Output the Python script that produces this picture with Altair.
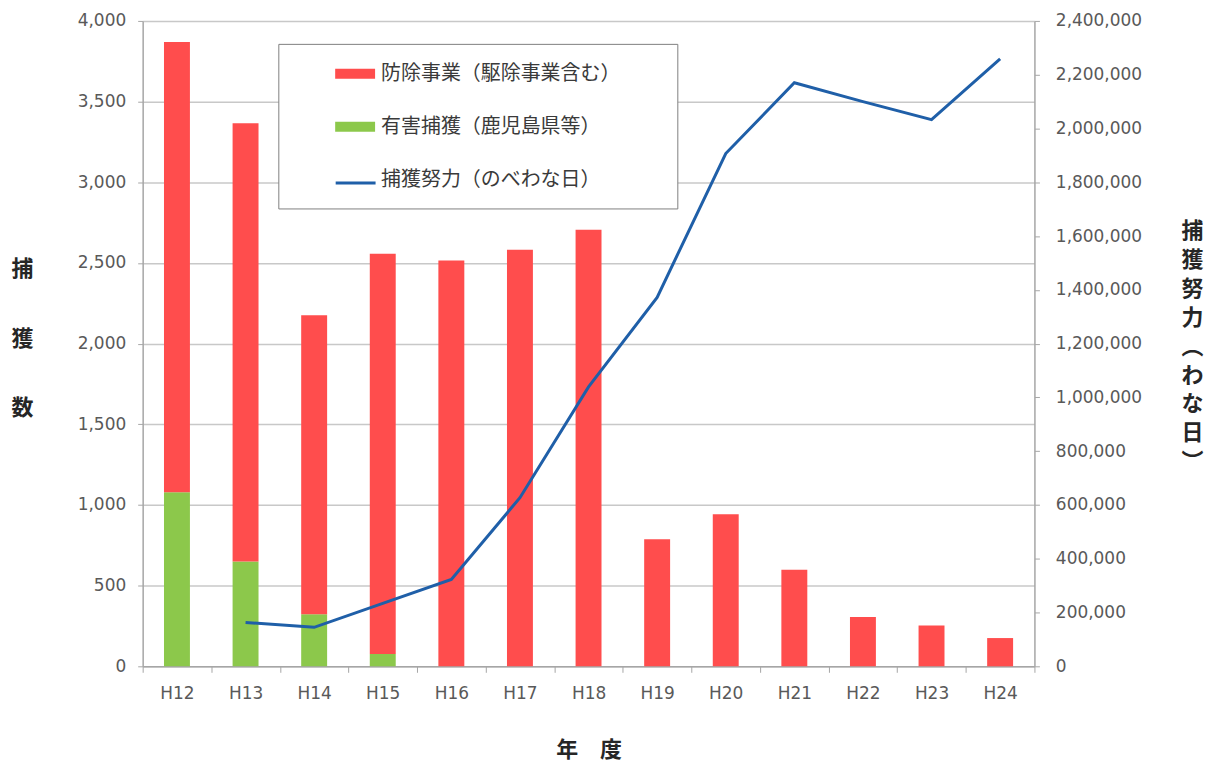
import altair as alt
import pandas as pd

# ---------------- data ----------------
years = ["H12", "H13", "H14", "H15", "H16", "H17", "H18",
         "H19", "H20", "H21", "H22", "H23", "H24"]
red_vals = [2792, 2715, 1852, 2480, 2515, 2582, 2705, 787, 942, 598, 305, 253, 175]
green_vals = [1078, 650, 323, 77, 0, 0, 0, 0, 0, 0, 0, 0, 0]
effort_years = ["H13", "H14", "H15", "H16", "H17", "H18",
                "H19", "H20", "H21", "H22", "H23", "H24"]
effort_vals = [163000, 145000, 234000, 323000, 627000, 1039000,
               1372000, 1907000, 2170000, 2100000, 2033000, 2259000]

S_RED = "防除事業（駆除事業含む）"
S_GREEN = "有害捕獲（鹿児島県等）"
S_LINE = "捕獲努力（のべわな日）"
left_ticks = [0, 500, 1000, 1500, 2000, 2500, 3000, 3500, 4000]
right_ticks = [0, 200000, 400000, 600000, 800000, 1000000, 1200000,
               1400000, 1600000, 1800000, 2000000, 2200000, 2400000]

RED = "#ff4d4d"
GREEN = "#8cc84b"
BLUE = "#1f5fa8"
NUM_FONT = "DejaVu Sans"
JP_FONT = "Noto Sans CJK JP"
LABEL_C = "#595959"
TITLE_C = "#262626"
AXIS_C = "#a6a6a6"

RECT_PATH = "M-1,-0.25H1V0.25H-1Z"
LINE_PATH = "M-1,0H1"

bars_df = pd.DataFrame({
    "year": years + years,
    "series": [S_GREEN] * len(years) + [S_RED] * len(years),
    "value": green_vals + red_vals,
    "stack_order": [0] * len(years) + [1] * len(years),
})
line_df = pd.DataFrame({
    "year": effort_years,
    "effort": effort_vals,
    "series": [S_LINE] * len(effort_years),
})

# colour legend holds all three labels and the frame; the line entry's
# swatch is left transparent and a stroke legend draws the blue line on it
color_scale = alt.Scale(domain=[S_RED, S_GREEN, S_LINE],
                        range=[RED, GREEN, "rgba(0,0,0,0)"])
stroke_scale = alt.Scale(domain=[S_LINE], range=[BLUE])

color_legend = alt.Legend(
    title=[" ", " "], titleOrient="right", titleAnchor="start",
    titleBaseline="top", titleLineHeight=146, titlePadding=48,
    titleFontSize=1,
    orient="none", legendX=136, legendY=23, direction="vertical",
    padding=9, rowPadding=22, symbolSize=1600, symbolOffset=47,
    symbolType=RECT_PATH, labelOffset=5, labelFont=JP_FONT,
    labelFontSize=20, labelColor="#3a3a3a", labelLimit=400,
    strokeColor="#7f7f7f", fillColor="white", zindex=1,
)
stroke_legend = alt.Legend(
    title=None, orient="none", legendX=192, legendY=141,
    direction="vertical", padding=0, symbolSize=1600, symbolOffset=0,
    symbolType=LINE_PATH, symbolStrokeWidth=3, labelFont=JP_FONT,
    labelFontSize=20, labelExpr="''", zindex=2,
)

x_scale = alt.Scale(domain=years, paddingInner=0, paddingOuter=0)
x_axis = alt.Axis(
    title="年　度", labelAngle=0, labelFont=NUM_FONT, labelFontSize=17,
    labelColor=LABEL_C, labelPadding=13, tickBand="extent", tickSize=6,
    tickColor=AXIS_C, domainColor=AXIS_C, domainWidth=1.5, grid=False,
    titleFont=JP_FONT, titleFontSize=22, titleFontWeight="bold",
    titleColor=TITLE_C, titleY=83, titleBaseline="middle",
    titleAlign="center")

bars = alt.Chart(bars_df).mark_bar(size=26).encode(
    x=alt.X("year:N", scale=x_scale, sort=years, axis=x_axis),
    y=alt.Y("value:Q", stack="zero", scale=alt.Scale(domain=[0, 4000]),
            axis=alt.Axis(
                title=["捕", "獲", "数"], titleAngle=0, titleAlign="center",
                titleBaseline="middle", titleX=-121, titleY=248,
                titleLineHeight=70, titleFont=JP_FONT, titleFontSize=22,
                titleFontWeight="bold", titleColor=TITLE_C,
                values=left_ticks, format=",d", labelFont=NUM_FONT,
                labelFontSize=17, labelColor=LABEL_C, labelPadding=12,
                tickSize=5, tickColor=AXIS_C, domainColor=AXIS_C,
                domainWidth=1.5, grid=True, gridColor="#c8c8c8",
                gridWidth=1.5)),
    color=alt.Color("series:N", scale=color_scale, legend=color_legend),
    order=alt.Order("stack_order:Q"),
)

line = alt.Chart(line_df).mark_line(strokeWidth=3).encode(
    x=alt.X("year:N", scale=x_scale, sort=years, axis=x_axis),
    y=alt.Y("effort:Q", scale=alt.Scale(domain=[0, 2400000]),
            axis=alt.Axis(
                orient="right", title=list("捕獲努力︵わな日︶"),
                titleAngle=0, titleAlign="center", titleBaseline="middle",
                titleX=158, titleY=210, titleLineHeight=29,
                titleFont=JP_FONT, titleFontSize=22, titleFontWeight="bold",
                titleColor=TITLE_C, values=right_ticks, format=",d",
                labelFont=NUM_FONT, labelFontSize=17, labelColor=LABEL_C,
                labelPadding=16, tickSize=5, tickColor=AXIS_C,
                domainColor=AXIS_C, domainWidth=1.5, grid=False)),
    stroke=alt.Stroke("series:N", scale=stroke_scale, legend=stroke_legend),
)

chart = alt.layer(bars, line).resolve_scale(y="independent").properties(
    width=894, height=647,
    autosize=alt.AutoSizeParams(type="none"),
    padding={"left": 135, "top": 12, "right": 170, "bottom": 100},
    background="white",
).configure_view(stroke=None)

chart.save("out.html", embed_options={"renderer": "svg", "actions": False})
